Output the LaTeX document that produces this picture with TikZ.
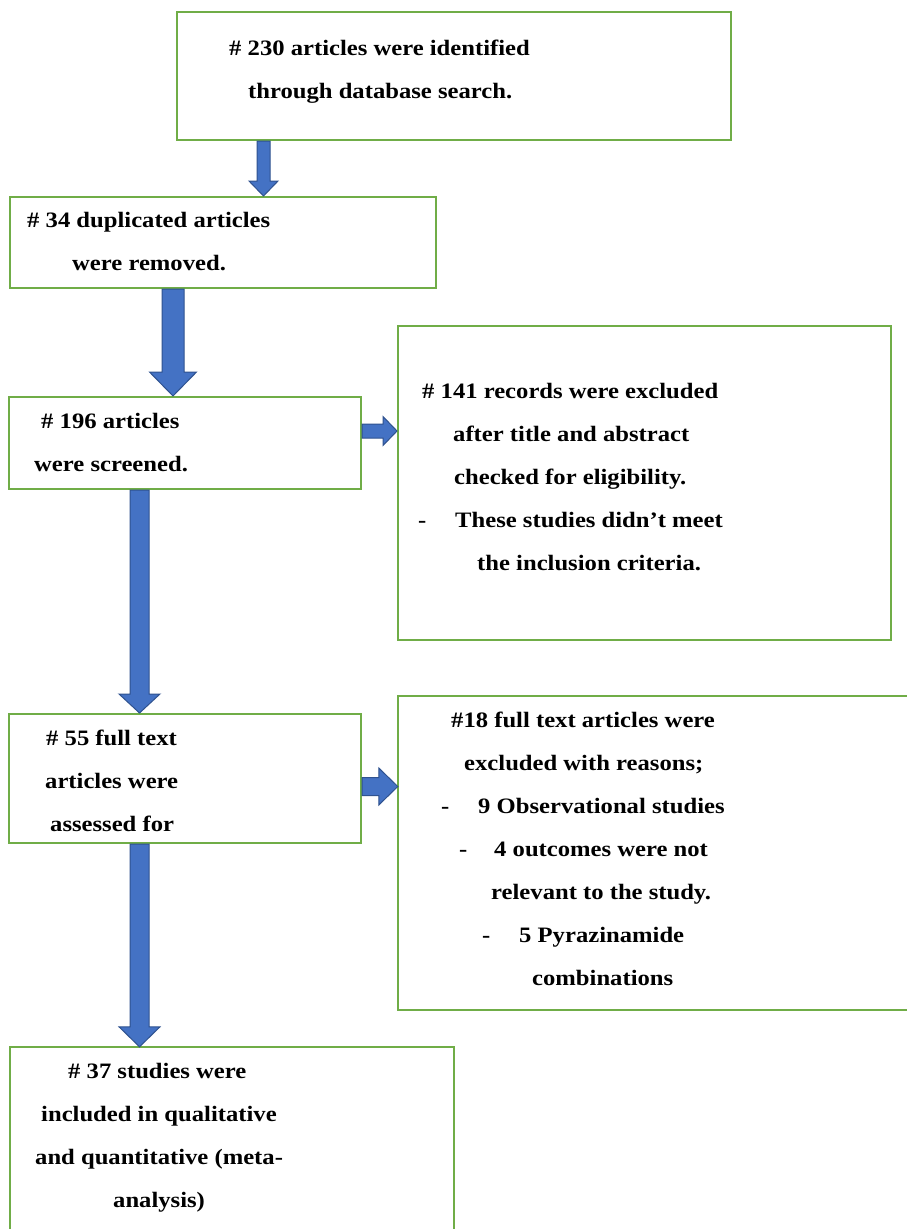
\documentclass[tikz,border=0pt]{standalone}
\usepackage{fontspec}
\setmainfont{Liberation Serif}[FakeStretch=1.12]
\usetikzlibrary{calc}
\definecolor{boxgreen}{HTML}{70AD47}
\definecolor{arrfill}{HTML}{4472C4}
\definecolor{arrline}{HTML}{2F528F}
\newcommand\vblock[6]{%
 \draw[barrow] ($(#1 |- #2)+(-#4,0)$) -- ($(#1 |- #3)+(-#4,-#6)$) -- ($(#1 |- #3)+(-#5,-#6)$) -- (#1 |- #3) -- ($(#1 |- #3)+(#5,-#6)$) -- ($(#1 |- #3)+(#4,-#6)$) -- ($(#1 |- #2)+(#4,0)$) -- cycle;}
\newcommand\hblock[6]{%
 \draw[barrow] ($(#1 -| #2)+(0,-#4)$) -- ($(#1 -| #3)+(-#6,-#4)$) -- ($(#1 -| #3)+(-#6,-#5)$) -- (#1 -| #3) -- ($(#1 -| #3)+(-#6,#5)$) -- ($(#1 -| #3)+(-#6,#4)$) -- ($(#1 -| #2)+(0,#4)$) -- cycle;}
\begin{document}
\begin{tikzpicture}[x=1pt,y=-1pt,
  box/.style={draw=boxgreen,line width=2pt,rectangle,inner sep=0pt},
  openbox/.style={draw=none,rectangle,inner sep=0pt},
  gline/.style={draw=boxgreen,line width=2pt},
  txt/.style={anchor=base west,inner sep=0pt,font=\fontsize{22}{26}\selectfont\bfseries},
  barrow/.style={fill=arrfill,draw=arrline,line width=1pt,line join=miter}]
\useasboundingbox (0,0) rectangle (907,1229);
\fill[white] (0,0) rectangle (907,1229);
% boxes
\node[box,minimum width=554pt,minimum height=128pt] (b1) at (454,76) {};
\node[box,minimum width=426pt,minimum height=91pt] (b2) at (223,242.5) {};
\node[box,minimum width=352pt,minimum height=92pt] (b3) at (185,443) {};
\node[box,minimum width=493pt,minimum height=314pt] (b4) at (644.5,483) {};
\node[box,minimum width=352pt,minimum height=129pt] (b5) at (185,778.5) {};
\node[openbox,minimum width=509pt,minimum height=314pt] (b6) at (652.5,853) {};
\draw[gline] (b6.north east) -- (b6.north west) -- (b6.south west) -- (b6.south east);
\node[openbox,minimum width=444pt,minimum height=182pt] (b7) at (232,1138) {};
\draw[gline] (b7.south west) -- (b7.north west) -- (b7.north east) -- (b7.south east);
% texts
\node[txt] (t1a) at (229,55) {\# 230 articles were identified};
\node[txt] (t1b) at (248,98) {through database search.};
\node[txt] (t2a) at (27,227) {\# 34 duplicated articles};
\node[txt] (t2b) at (72,270) {were removed.};
\node[txt] (t3a) at (41,428) {\# 196 articles};
\node[txt] (t3b) at (34,471) {were screened.};
\node[txt] (t4a) at (422,398) {\# 141 records were excluded};
\node[txt] (t4b) at (453,441) {after title and abstract};
\node[txt] (t4c) at (454,484) {checked for eligibility.};
\node[txt] (t4d) at (418,527) {-};
\node[txt] (t4e) at (455,527) {These studies didn’t meet};
\node[txt] (t4f) at (477,570) {the inclusion criteria.};
\node[txt] (t5a) at (46,745) {\# 55 full text};
\node[txt] (t5b) at (45,788) {articles were};
\node[txt] (t5c) at (50,831) {assessed for};
\node[txt] (t6a) at (451,727) {\#18 full text articles were};
\node[txt] (t6b) at (464,770) {excluded with reasons;};
\node[txt] (t6c) at (441,813) {-};
\node[txt] (t6d) at (478,813) {9 Observational studies};
\node[txt] (t6e) at (459,856) {-};
\node[txt] (t6f) at (494,856) {4 outcomes were not};
\node[txt] (t6g) at (491,899) {relevant to the study.};
\node[txt] (t6h) at (482,942) {-};
\node[txt] (t6i) at (519,942) {5 Pyrazinamide};
\node[txt] (t6j) at (532,985) {combinations};
\node[txt] (t7a) at (68,1078) {\# 37 studies were};
\node[txt] (t7b) at (41,1121) {included in qualitative};
\node[txt] (t7c) at (35,1164) {and quantitative (meta-};
\node[txt] (t7d) at (113,1207) {analysis)};
% arrow guide coordinates
\coordinate (ax1) at (263.5,0);
\coordinate (ax2) at (173,0);
\coordinate (ax4) at (139.5,0);
\coordinate (ay3) at (0,431);
\coordinate (ay5) at (0,786.5);
% arrows
\vblock{ax1}{b1.south}{b2.north}{6.5}{14.5}{15}
\vblock{ax2}{b2.south}{b3.north}{11}{23.5}{24}
\hblock{ay3}{b3.east}{b4.west}{7}{14.5}{14}
\vblock{ax4}{b3.south}{b5.north}{9.5}{20.5}{19}
\hblock{ay5}{b5.east}{b6.west}{9}{18.5}{19}
\vblock{ax4}{b5.south}{b7.north}{9.5}{20.5}{20}
\end{tikzpicture}
\end{document}
